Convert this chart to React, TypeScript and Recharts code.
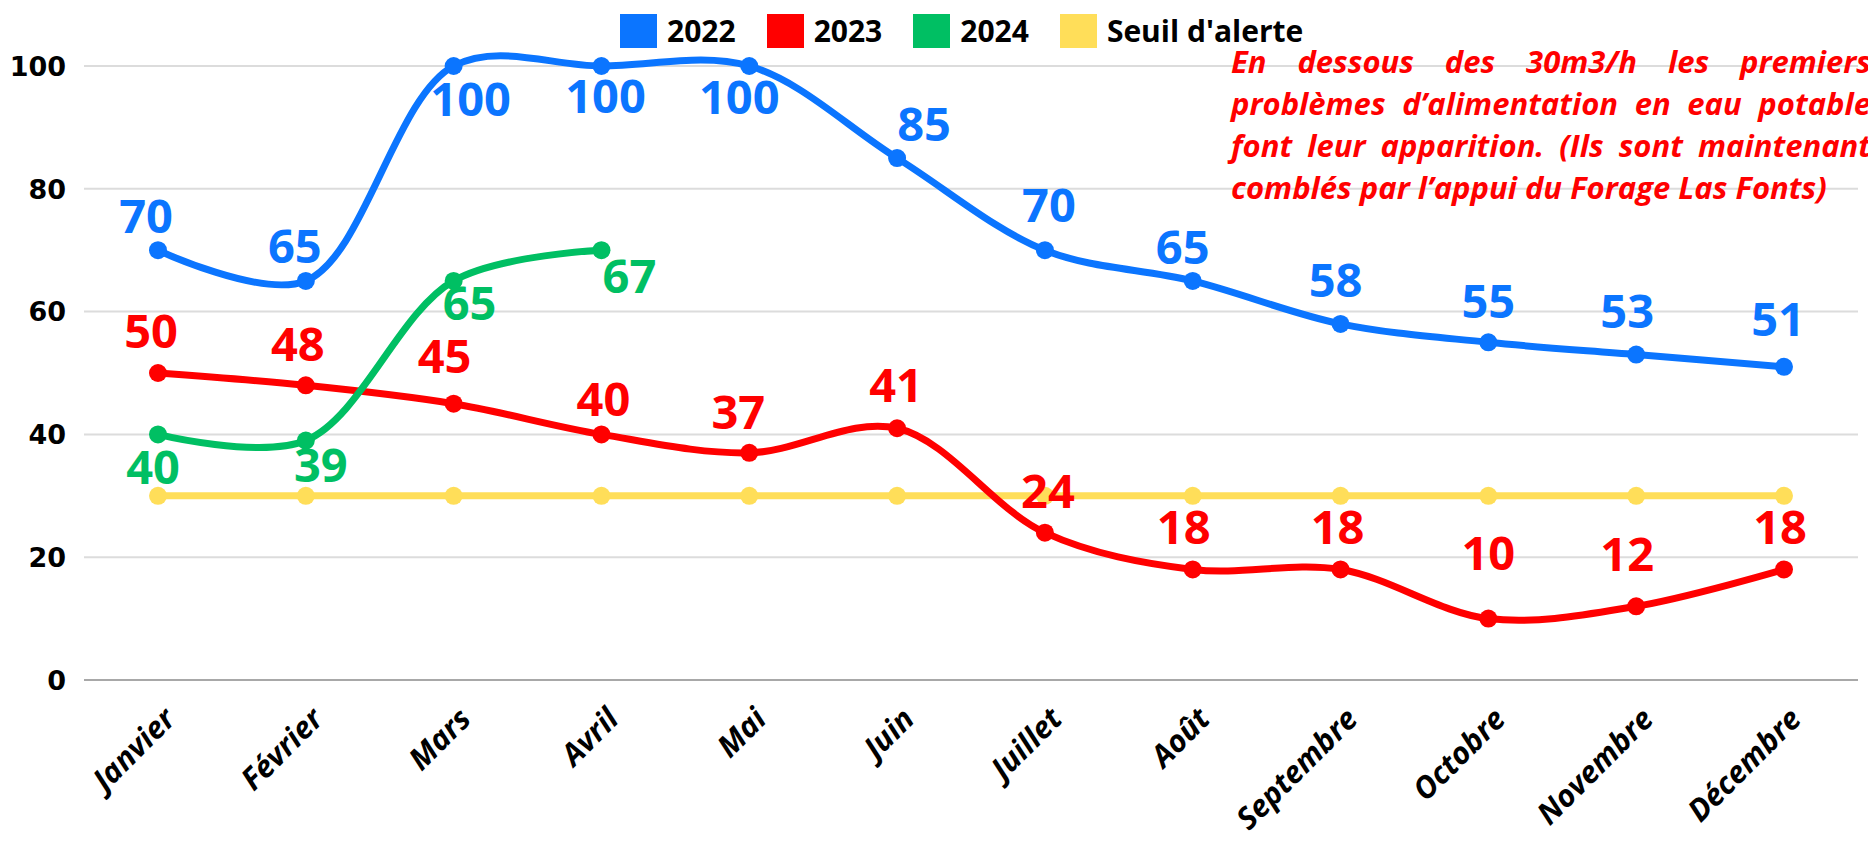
import { LineChart, Line, XAxis, YAxis, CartesianGrid, LabelList } from 'recharts';

const months = ['Janvier', 'Février', 'Mars', 'Avril', 'Mai', 'Juin', 'Juillet', 'Août', 'Septembre', 'Octobre', 'Novembre', 'Décembre'];
const values2022 = [70, 65, 100, 100, 100, 85, 70, 65, 58, 55, 53, 51];
const values2023 = [50, 48, 45, 40, 37, 41, 24, 18, 18, 10, 12, 18];
const values2024 = [40, 39, 65, 70];
// the source labels the last 2024 point "67" although it is drawn at 70
const labels2024 = ['40', '39', '65', '67'];
const seuil = [30, 30, 30, 30, 30, 30, 30, 30, 30, 30, 30, 30];
const yTicks = [0, 20, 40, 60, 80, 100];

const BLUE = '#0B75FF';
const RED = '#FF0000';
const GREEN = '#00BF63';
const YELLOW = '#FFDE59';

const data = months.map((m, i) => ({
  month: m,
  y2022: values2022[i],
  y2023: values2023[i],
  y2024: values2024[i] ?? null,
  seuil: seuil[i],
}));

// label offsets from the point (dx, dy), copied from the layout of the source
const nudge2022 = [[-12, -34], [-11, -35], [17, 33], [4, 30], [-10, 31], [27, -34], [4, -45], [-10, -34], [-5, -44], [0, -41], [-9, -43], [-6, -48]];
const nudge2023 = [[-7, -42], [-8, -41], [-9, -47], [2, -35], [-11, -41], [-1, -43], [3, -41], [-9, -42], [-3, -42], [0, -65], [-9, -52], [-4, -42]];
const nudge2024 = [[-5, 33], [15, 25], [16, 22], [28, 26]];

// centripetal Catmull-Rom (alpha 0.5), same maths as d3's curveCatmullRom
class CatmullRom {
  c: any; alpha = 0.5; _line = NaN; _point = 0;
  x0 = NaN; x1 = NaN; x2 = NaN; y0 = NaN; y1 = NaN; y2 = NaN;
  l01a = 0; l12a = 0; l23a = 0; l012a = 0; l122a = 0; l232a = 0;
  constructor(context: any) { this.c = context; }
  areaStart() { this._line = 0; }
  areaEnd() { this._line = NaN; }
  lineStart() {
    this.x0 = this.x1 = this.x2 = this.y0 = this.y1 = this.y2 = NaN;
    this.l01a = this.l12a = this.l23a = this.l012a = this.l122a = this.l232a = 0;
    this._point = 0;
  }
  lineEnd() {
    switch (this._point) {
      case 2: this.c.lineTo(this.x2, this.y2); break;
      case 3: this.point(this.x2, this.y2); break;
    }
    if (this._line || (this._line !== 0 && this._point === 1)) this.c.closePath();
    this._line = 1 - this._line;
  }
  bez(x: number, y: number) {
    let cx1 = this.x1, cy1 = this.y1, cx2 = this.x2, cy2 = this.y2;
    if (this.l01a > 1e-12) {
      const a = 2 * this.l012a + 3 * this.l01a * this.l12a + this.l122a;
      const n = 3 * this.l01a * (this.l01a + this.l12a);
      cx1 = (cx1 * a - this.x0 * this.l122a + this.x2 * this.l012a) / n;
      cy1 = (cy1 * a - this.y0 * this.l122a + this.y2 * this.l012a) / n;
    }
    if (this.l23a > 1e-12) {
      const b = 2 * this.l232a + 3 * this.l23a * this.l12a + this.l122a;
      const m = 3 * this.l23a * (this.l23a + this.l12a);
      cx2 = (cx2 * b + this.x1 * this.l232a - x * this.l122a) / m;
      cy2 = (cy2 * b + this.y1 * this.l232a - y * this.l122a) / m;
    }
    this.c.bezierCurveTo(cx1, cy1, cx2, cy2, this.x2, this.y2);
  }
  point(x: number, y: number) {
    x = +x; y = +y;
    if (this._point) {
      const dx = this.x2 - x, dy = this.y2 - y;
      this.l232a = Math.pow(dx * dx + dy * dy, this.alpha);
      this.l23a = Math.sqrt(this.l232a);
    }
    switch (this._point) {
      case 0: this._point = 1; this._line ? this.c.lineTo(x, y) : this.c.moveTo(x, y); break;
      case 1: this._point = 2; break;
      case 2: this._point = 3; this.bez(x, y); break;
      default: this.bez(x, y); break;
    }
    this.l01a = this.l12a; this.l12a = this.l23a;
    this.l012a = this.l122a; this.l122a = this.l232a;
    this.x0 = this.x1; this.x1 = this.x2; this.x2 = x;
    this.y0 = this.y1; this.y1 = this.y2; this.y2 = y;
  }
}
const smooth: any = (context: any) => new CatmullRom(context);

const makeLabel = (color: string, nudge: number[][], texts?: string[]) => (props: any) => {
  const { index, value } = props;
  if (value == null) return null;
  const x = props.x ?? props.viewBox?.x;
  const y = props.y ?? props.viewBox?.y;
  const [dx, dy] = nudge[index] || [0, -40];
  const fs = 47;
  return (
    <text x={x + dx} y={y + dy + fs * 0.357} textAnchor="middle" fill={color}
      style={{ fontFamily: 'Open Sans', fontWeight: 700, fontSize: fs }}>
      {texts ? texts[index] : value}
    </text>
  );
};

const XTick = ({ x, y, payload }: any) => (
  <text x={x + 19} y={y + 41} textAnchor="end" transform={`rotate(-45 ${x + 19} ${y + 41})`}
    style={{ fontFamily: 'Open Sans', fontWeight: 700, fontStyle: 'italic', fontSize: 30.5 }} fill="#000">
    {payload.value}
  </text>
);

const YTick = ({ x, y, payload }: any) => (
  <text x={x} y={y} dy="0.36em" textAnchor="end"
    style={{ fontFamily: 'DejaVu Sans', fontWeight: 700, fontSize: 27 }} fill="#000">
    {payload.value}
  </text>
);

const legendItems = [
  { name: '2022', color: BLUE },
  { name: '2023', color: RED },
  { name: '2024', color: GREEN },
  { name: "Seuil d'alerte", color: YELLOW },
];

const noteLines = [
  'En dessous des 30m3/h les premiers',
  'problèmes d’alimentation en eau potable',
  'font leur apparition. (Ils sont maintenant',
  'comblés par l’appui du Forage Las Fonts)',
];

const dotStyle = (c: string) => ({ r: 9, fill: c, stroke: c, strokeWidth: 0 });

export default function App() {
  return (
    <div style={{ position: 'relative', width: 1860, height: 837 }}>
      <LineChart width={1860} height={837} data={data} margin={{ top: 58, right: 10, bottom: 0, left: 0 }}>
        <CartesianGrid vertical={false} stroke="#dcdcdc" strokeWidth={2} />
        <XAxis dataKey="month" height={165} interval={0} tickSize={0} tickMargin={0} padding={{ left: 74, right: 74 }}
          axisLine={{ stroke: '#a8a8a8', strokeWidth: 2 }} tickLine={false} tick={<XTick />} />
        <YAxis domain={[0, 100]} ticks={yTicks} width={76} tickSize={0} tickMargin={18}
          axisLine={false} tickLine={false} tick={<YTick />} />
        <Line type={smooth} dataKey="seuil" stroke={YELLOW} strokeWidth={7} dot={dotStyle(YELLOW)}
          activeDot={false} isAnimationActive={false} />
        <Line type={smooth} dataKey="y2023" stroke={RED} strokeWidth={7} dot={dotStyle(RED)}
          activeDot={false} isAnimationActive={false}>
          <LabelList dataKey="y2023" content={makeLabel(RED, nudge2023)} />
        </Line>
        <Line type={smooth} dataKey="y2024" stroke={GREEN} strokeWidth={7} dot={dotStyle(GREEN)}
          activeDot={false} isAnimationActive={false}>
          <LabelList dataKey="y2024" content={makeLabel(GREEN, nudge2024, labels2024)} />
        </Line>
        <Line type={smooth} dataKey="y2022" stroke={BLUE} strokeWidth={7} dot={dotStyle(BLUE)}
          activeDot={false} isAnimationActive={false}>
          <LabelList dataKey="y2022" content={makeLabel(BLUE, nudge2022)} />
        </Line>
      </LineChart>

      <div style={{ position: 'absolute', left: 612, top: 2, display: 'flex', alignItems: 'center',
        fontFamily: 'Open Sans', fontWeight: 700, fontSize: 30, color: '#000' }}>
        {legendItems.map((it) => (
          <div key={it.name} style={{ display: 'flex', alignItems: 'center', marginRight: 31 }}>
            <div style={{ width: 37, height: 34, background: it.color, marginRight: 10 }} />
            <span>{it.name}</span>
          </div>
        ))}
      </div>

      <div style={{ position: 'absolute', left: 1223, top: 32, width: 640, fontFamily: 'Open Sans',
        fontWeight: 700, fontStyle: 'italic', fontSize: 31, lineHeight: '42px', color: RED }}>
        {noteLines.map((l, i) => (
          <div key={i} style={{ textAlign: 'justify', textAlignLast: i < noteLines.length - 1 ? 'justify' : 'left', whiteSpace: 'nowrap' }}>
            {l}
          </div>
        ))}
      </div>
    </div>
  );
}
